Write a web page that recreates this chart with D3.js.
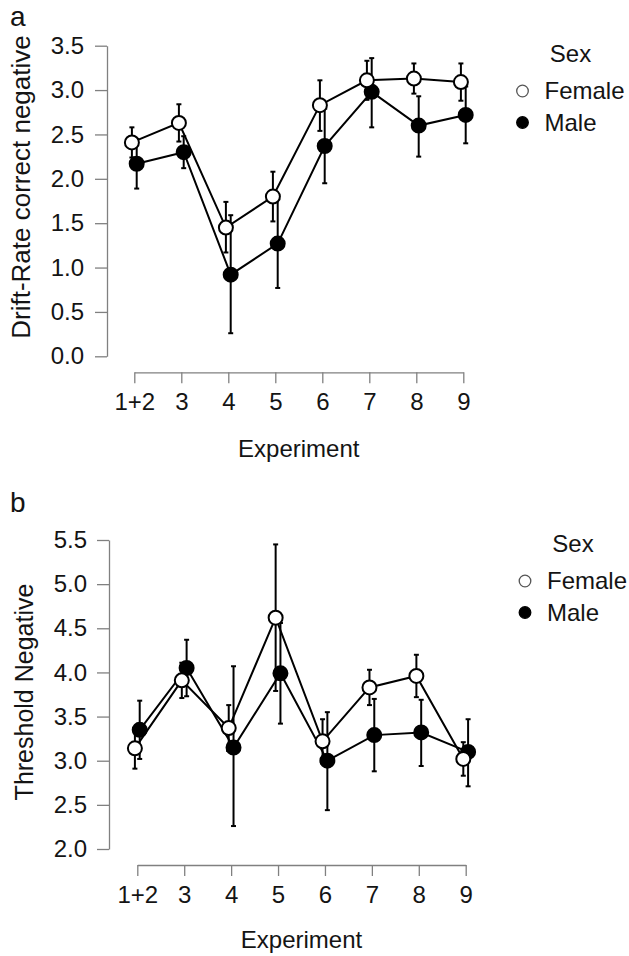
<!DOCTYPE html>
<html>
<head>
<meta charset="utf-8">
<script src="https://cdn.jsdelivr.net/npm/d3@7"></script>
<style>
  html, body { margin: 0; padding: 0; background: #fff; }
  svg { display: block; font-family: "Liberation Sans", Arial, Helvetica, sans-serif; }
</style>
</head>
<body>
<svg id="chart" width="629" height="956"></svg>
<script>
// ---------- DATA ----------
const experiments = ["1+2", "3", "4", "5", "6", "7", "8", "9"];
const sexes = ["Female", "Male"];

// Panel a: Drift-Rate correct negative
const driftTicks = [0.0, 0.5, 1.0, 1.5, 2.0, 2.5, 3.0, 3.5];
const driftFemale   = [2.41, 2.63, 1.45, 1.80, 2.83, 3.11, 3.13, 3.09];
const driftFemaleLo = [2.24, 2.42, 1.17, 1.52, 2.54, 2.89, 2.96, 2.88];
const driftFemaleHi = [2.58, 2.84, 1.74, 2.08, 3.11, 3.33, 3.30, 3.30];
const driftMale     = [2.17, 2.30, 0.92, 1.27, 2.37, 2.98, 2.60, 2.72];
const driftMaleLo   = [1.89, 2.12, 0.26, 0.77, 1.95, 2.58, 2.25, 2.40];
const driftMaleHi   = [2.45, 2.48, 1.59, 1.77, 2.79, 3.36, 2.93, 3.04];

// Panel b: Threshold Negative
const threshTicks = [2.0, 2.5, 3.0, 3.5, 4.0, 4.5, 5.0, 5.5];
const threshFemale   = [3.14, 3.91, 3.37, 4.62, 3.22, 3.83, 3.96, 3.02];
const threshFemaleLo = [2.91, 3.71, 3.11, 3.79, 2.97, 3.63, 3.72, 2.83];
const threshFemaleHi = [3.37, 4.11, 3.63, 5.45, 3.47, 4.03, 4.20, 3.21];
const threshMale     = [3.35, 4.05, 3.15, 3.99, 3.00, 3.29, 3.32, 3.10];
const threshMaleLo   = [3.02, 3.73, 2.26, 3.42, 2.44, 2.88, 2.94, 2.71];
const threshMaleHi   = [3.68, 4.37, 4.07, 4.56, 3.55, 3.70, 3.69, 3.47];

// ---------- DRAW ----------
const svg = d3.select("#chart");
const textColor = "#141414";
const axisColor = "#808080";

function drawPanel(cfg) {
  const g = svg.append("g");
  const x = d3.scalePoint().domain(experiments).range([cfg.x0, cfg.x1]);
  const y = d3.scaleLinear().domain(cfg.yDomain).range([cfg.yBottom, cfg.yTop]);
  const dodge = 2.4;

  // Y axis
  const yAxis = d3.axisLeft(y).tickValues(cfg.yTicks).tickFormat(d3.format(".1f"))
    .tickSizeInner(12).tickSizeOuter(0).tickPadding(cfg.yTickPad);
  const yg = g.append("g").attr("transform", `translate(${cfg.yAxisX},0)`).call(yAxis);
  yg.select(".domain").attr("stroke", axisColor).attr("stroke-width", 1.3);
  yg.selectAll(".tick line").attr("stroke", axisColor).attr("stroke-width", 1.3);
  yg.selectAll(".tick text").attr("fill", textColor).style("font-size", "24px");

  // X axis
  const xAxis = d3.axisBottom(x).tickSizeInner(11).tickSizeOuter(0).tickPadding(10);
  const xg = g.append("g").attr("transform", `translate(0,${cfg.xAxisY})`).call(xAxis);
  xg.select(".domain").attr("stroke", axisColor).attr("stroke-width", 1.3);
  xg.selectAll(".tick line").attr("stroke", axisColor).attr("stroke-width", 1.3);
  xg.selectAll(".tick text").attr("fill", textColor).style("font-size", "24px");

  // Axis titles
  g.append("text").attr("x", (cfg.x0 + cfg.x1) / 2).attr("y", cfg.xTitleY)
    .attr("text-anchor", "middle").attr("fill", textColor).style("font-size", "24px")
    .text("Experiment");
  g.append("text")
    .attr("transform", `translate(${cfg.yTitleX},${cfg.yTitleY}) rotate(-90)`)
    .attr("text-anchor", "middle").attr("dominant-baseline", "central")
    .attr("fill", textColor).style("font-size", cfg.yTitleSize + "px")
    .text(cfg.yTitle);

  // Panel letter
  g.append("text").attr("x", 10).attr("y", cfg.letterY).attr("fill", textColor)
    .style("font-size", "28px").text(cfg.letter);

  // Series (male first, female on top)
  const series = [
    { name: "Male", vals: cfg.male, lo: cfg.maleLo, hi: cfg.maleHi, fill: "#000", off: dodge },
    { name: "Female", vals: cfg.female, lo: cfg.femaleLo, hi: cfg.femaleHi, fill: "#fff", off: -dodge }
  ];
  const line = d3.line();
  series.forEach(s => {
    const pts = experiments.map((e, i) => [x(e) + s.off, y(s.vals[i])]);
    g.append("path").attr("d", line(pts)).attr("fill", "none")
      .attr("stroke", "#000").attr("stroke-width", 2);
  });
  series.forEach(s => {
    const sg = g.append("g");
    const data = experiments.map((e, i) => ({ e, v: s.vals[i], lo: s.lo[i], hi: s.hi[i] }));
    sg.selectAll("line.err").data(data).join("line").attr("class", "err")
      .attr("x1", d => x(d.e) + s.off).attr("x2", d => x(d.e) + s.off)
      .attr("y1", d => y(d.lo)).attr("y2", d => y(d.hi))
      .attr("stroke", "#000").attr("stroke-width", 2);
    sg.selectAll("line.capHi").data(data).join("line").attr("class", "capHi")
      .attr("x1", d => x(d.e) + s.off - 2.5).attr("x2", d => x(d.e) + s.off + 2.5)
      .attr("y1", d => y(d.hi)).attr("y2", d => y(d.hi))
      .attr("stroke", "#000").attr("stroke-width", 2);
    sg.selectAll("line.capLo").data(data).join("line").attr("class", "capLo")
      .attr("x1", d => x(d.e) + s.off - 2.5).attr("x2", d => x(d.e) + s.off + 2.5)
      .attr("y1", d => y(d.lo)).attr("y2", d => y(d.lo))
      .attr("stroke", "#000").attr("stroke-width", 2);
    sg.selectAll("circle").data(data).join("circle")
      .attr("cx", d => x(d.e) + s.off).attr("cy", d => y(d.v)).attr("r", 7)
      .attr("fill", s.fill).attr("stroke", "#000").attr("stroke-width", 2);
  });

  // Legend
  const lg = g.append("g").attr("transform", `translate(${cfg.legendX},${cfg.legendY})`);
  lg.append("text").attr("x", 48).attr("y", 0).attr("text-anchor", "middle")
    .attr("fill", textColor).style("font-size", "24px").text("Sex");
  sexes.forEach((name, i) => {
    const cy = 29 + i * 31.5;
    lg.append("circle").attr("cx", 0).attr("cy", cy).attr("r", 5.8)
      .attr("fill", name === "Female" ? "#fff" : "#000")
      .attr("stroke", name === "Female" ? "#555" : "#000").attr("stroke-width", 1.3);
    lg.append("text").attr("x", 22).attr("y", cy + 8).attr("fill", textColor)
      .style("font-size", "24px").text(name);
  });
}

drawPanel({
  letter: "a", letterY: 26,
  x0: 134.3, x1: 463.3, xAxisY: 372.3, xTitleY: 457,
  yDomain: [0, 3.5], yTicks: driftTicks, yBottom: 356.3, yTop: 45.7, yAxisX: 107, yTickPad: 11,
  yTitle: "Drift-Rate correct negative", yTitleX: 21, yTitleY: 187, yTitleSize: 26,
  female: driftFemale, femaleLo: driftFemaleLo, femaleHi: driftFemaleHi,
  male: driftMale, maleLo: driftMaleLo, maleHi: driftMaleHi,
  legendX: 522.5, legendY: 62
});

drawPanel({
  letter: "b", letterY: 512,
  x0: 137.3, x1: 465.7, xAxisY: 865, xTitleY: 948,
  yDomain: [2, 5.5], yTicks: threshTicks, yBottom: 849, yTop: 540, yAxisX: 109, yTickPad: 10,
  yTitle: "Threshold Negative", yTitleX: 24, yTitleY: 692, yTitleSize: 25,
  female: threshFemale, femaleLo: threshFemaleLo, femaleHi: threshFemaleHi,
  male: threshMale, maleLo: threshMaleLo, maleHi: threshMaleHi,
  legendX: 525, legendY: 552
});
</script>
</body>
</html>
